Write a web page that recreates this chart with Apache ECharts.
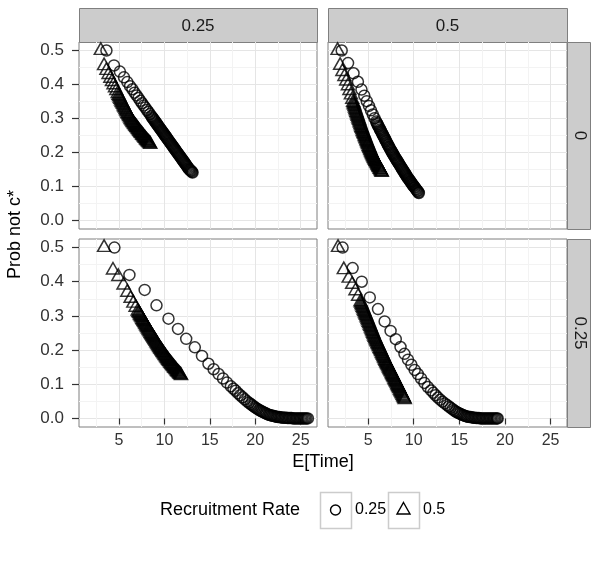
<!DOCTYPE html>
<html><head><meta charset="utf-8">
<script src="https://cdn.jsdelivr.net/npm/echarts@6/dist/echarts.min.js"></script>
<style>html,body{margin:0;padding:0;background:#fff}#c{width:592px;height:563px}</style>
</head><body><div id="c"></div>
<script>
// ---- facet labels, legend levels, ticks ----
const colFacets = ['0.25', '0.5'];
const rowFacets = ['0', '0.25'];
const rateLevels = ['0.25', '0.5'];
const xTicks = [5, 10, 15, 20, 25];
const xMinorTicks = [2.5, 7.5, 12.5, 17.5, 22.5];
const yTicks = [0, 0.1, 0.2, 0.3, 0.4, 0.5];
const yMinorTicks = [0.05, 0.15, 0.25, 0.35, 0.45];

// ---- data: [E[Time], Prob not c*] ----
// row "0", column "0.25"
const r0c1_rate025 = [[3.62,0.500],[4.45,0.456],[5.10,0.438],[5.55,0.421],[5.92,0.407],[6.22,0.395],[6.48,0.386],[6.72,0.376],[6.94,0.368],[7.15,0.360],[7.35,0.352],[7.54,0.345],[7.72,0.338],[7.90,0.332],[8.07,0.325],[8.24,0.319],[8.40,0.313],[8.56,0.307],
[8.64,0.304],[8.72,0.301],[8.80,0.298],[8.88,0.295],[8.96,0.292],[9.04,0.289],[9.12,0.286],[9.20,0.283],[9.28,0.280],[9.36,0.277],[9.44,0.274],[9.52,0.271],[9.60,0.268],[9.68,0.265],[9.76,0.262],[9.84,0.259],[9.92,0.256],[10.00,0.253],[10.08,0.250],[10.16,0.247],[10.24,0.244],[10.32,0.241],[10.40,0.238],[10.48,0.235],[10.56,0.232],[10.64,0.229],[10.72,0.226],[10.80,0.223],[10.88,0.220],[10.96,0.217],[11.04,0.214],[11.12,0.211],[11.20,0.208],[11.28,0.205],[11.36,0.202],[11.44,0.199],[11.52,0.196],[11.60,0.193],[11.68,0.190],[11.76,0.187],[11.84,0.184],[11.92,0.181],[12.00,0.178],[12.08,0.175],[12.16,0.172],[12.24,0.169],[12.32,0.166],[12.40,0.163],[12.48,0.160],[12.56,0.157],[12.64,0.154],[12.72,0.151],[12.80,0.149],[12.88,0.147],[12.96,0.145],[13.04,0.143],[13.10,0.141]];
const r0c1_rate05 = [[3.00,0.500],[3.36,0.455],[3.62,0.441],[3.85,0.429],[4.05,0.418],[4.23,0.408],[4.40,0.399],[4.56,0.390],[4.71,0.382],[4.86,0.373],
[4.95,0.368],[5.02,0.364],[5.09,0.360],[5.16,0.356],[5.23,0.352],[5.30,0.348],[5.37,0.345],[5.44,0.341],[5.51,0.337],[5.58,0.333],[5.65,0.330],[5.72,0.326],[5.79,0.322],[5.86,0.319],[5.93,0.315],[6.00,0.312],[6.07,0.308],[6.14,0.305],[6.21,0.302],[6.28,0.298],[6.35,0.295],[6.42,0.292],[6.49,0.289],[6.56,0.287],[6.63,0.284],[6.70,0.282],[6.77,0.279],[6.84,0.277],[6.91,0.274],[6.98,0.272],[7.05,0.269],[7.12,0.267],[7.19,0.264],[7.26,0.262],[7.33,0.259],[7.40,0.257],[7.47,0.255],[7.54,0.252],[7.61,0.250],[7.68,0.248],[7.75,0.245],[7.82,0.243],[7.89,0.241],[7.96,0.238],[8.03,0.236],[8.10,0.234],[8.17,0.232],[8.24,0.230],[8.31,0.228],[8.38,0.226],[8.45,0.224]];
// row "0", column "0.5"
const r0c2_rate025 = [[2.10,0.500],[2.80,0.463],[3.40,0.433],[3.88,0.408],[4.27,0.385],[4.58,0.367],[4.85,0.351],[5.09,0.337],[5.31,0.324],[5.51,0.312],[5.70,0.301],[5.88,0.291],
[5.95,0.287],[6.02,0.283],[6.09,0.279],[6.16,0.276],[6.23,0.272],[6.30,0.268],[6.37,0.265],[6.44,0.261],[6.51,0.257],[6.58,0.254],[6.65,0.250],[6.72,0.246],[6.79,0.243],[6.86,0.239],[6.93,0.235],[7.00,0.232],[7.07,0.228],[7.14,0.224],[7.21,0.221],[7.28,0.217],[7.35,0.214],[7.42,0.210],[7.49,0.207],[7.56,0.204],[7.63,0.200],[7.70,0.197],[7.77,0.194],[7.84,0.191],[7.91,0.187],[7.98,0.184],[8.05,0.181],[8.12,0.178],[8.19,0.175],[8.26,0.172],[8.33,0.169],[8.40,0.166],[8.47,0.163],[8.54,0.160],[8.61,0.157],[8.68,0.154],[8.75,0.151],[8.82,0.148],[8.89,0.145],[8.96,0.142],[9.03,0.139],[9.10,0.136],[9.17,0.133],[9.24,0.130],[9.31,0.127],[9.38,0.124],[9.45,0.122],[9.52,0.119],[9.59,0.116],[9.66,0.114],[9.73,0.111],[9.80,0.108],[9.87,0.106],[9.94,0.103],[10.01,0.101],[10.08,0.098],[10.15,0.096],[10.22,0.093],[10.29,0.091],[10.36,0.088],[10.43,0.086],[10.50,0.083],[10.56,0.081]];
const r0c2_rate05 = [[1.65,0.500],[1.93,0.456],[2.18,0.438],[2.40,0.423],[2.60,0.410],[2.78,0.396],[2.95,0.382],[3.11,0.369],[3.26,0.356],
[3.36,0.347],[3.41,0.343],[3.46,0.339],[3.51,0.335],[3.56,0.330],[3.61,0.326],[3.66,0.322],[3.71,0.318],[3.76,0.314],[3.81,0.310],[3.86,0.306],[3.91,0.302],[3.96,0.298],[4.01,0.294],[4.06,0.290],[4.11,0.286],[4.16,0.282],[4.21,0.278],[4.26,0.274],[4.31,0.271],[4.36,0.267],[4.41,0.263],[4.46,0.260],[4.51,0.256],[4.56,0.253],[4.61,0.249],[4.66,0.246],[4.71,0.242],[4.76,0.239],[4.81,0.235],[4.86,0.232],[4.91,0.228],[4.96,0.225],[5.01,0.222],[5.06,0.218],[5.11,0.215],[5.16,0.212],[5.21,0.208],[5.26,0.205],[5.31,0.202],[5.36,0.199],[5.41,0.196],[5.46,0.193],[5.51,0.190],[5.56,0.187],[5.61,0.184],[5.66,0.182],[5.71,0.179],[5.76,0.177],[5.81,0.174],[5.86,0.172],[5.91,0.169],[5.96,0.167],[6.01,0.164],[6.06,0.162],[6.11,0.159],[6.16,0.157],[6.21,0.155],[6.26,0.152],[6.31,0.150],[6.36,0.148],[6.41,0.145],[6.46,0.143],[6.50,0.141]];
// row "0.25", column "0.25"
const r1c1_rate025 = [[4.50,0.500],[6.15,0.420],[7.83,0.376],[9.13,0.331],[10.45,0.292],[11.50,0.262],[12.40,0.233],[13.35,0.208],[14.14,0.183],[14.85,0.160],[15.42,0.144],[15.96,0.130],[16.45,0.117],[16.89,0.105],[17.32,0.094],
[17.60,0.087],[17.85,0.081],[18.10,0.074],[18.35,0.068],[18.60,0.062],[18.85,0.056],[19.10,0.050],[19.30,0.046],[19.50,0.042],[19.65,0.039],[19.80,0.036],[19.95,0.033],[20.10,0.030],[20.25,0.028],[20.40,0.025],[20.55,0.023],[20.70,0.021],[20.85,0.019],[21.00,0.017],[21.15,0.015],[21.30,0.013],[21.45,0.011],[21.60,0.010],[21.75,0.009],[21.90,0.008],[22.05,0.007],[22.20,0.006],[22.35,0.005],[22.50,0.004],[22.65,0.004],[22.80,0.003],[22.95,0.003],[23.10,0.002],[23.25,0.002],[23.40,0.002],[23.55,0.001],[23.70,0.001],[23.85,0.001],[24.00,0.001],[24.15,0.000],[24.30,0.000],[24.45,0.000],[24.60,0.000],[24.75,0.000],[24.90,0.000],[25.05,0.000],[25.20,0.000],[25.35,0.000],[25.50,0.000],[25.65,0.000],[25.80,0.000]];
const r1c1_rate05 = [[3.36,0.500],[4.34,0.434],[4.93,0.415],[5.50,0.390],[5.92,0.369],[6.28,0.351],[6.58,0.337],[6.83,0.325],[7.06,0.314],
[7.15,0.310],[7.22,0.307],[7.29,0.303],[7.36,0.300],[7.43,0.297],[7.50,0.294],[7.57,0.290],[7.64,0.287],[7.71,0.284],[7.78,0.281],[7.85,0.277],[7.92,0.274],[7.99,0.271],[8.06,0.268],[8.13,0.265],[8.20,0.261],[8.27,0.258],[8.34,0.255],[8.41,0.252],[8.48,0.249],[8.55,0.246],[8.62,0.243],[8.69,0.240],[8.76,0.237],[8.83,0.234],[8.90,0.231],[8.97,0.228],[9.04,0.225],[9.11,0.222],[9.18,0.219],[9.25,0.216],[9.32,0.213],[9.39,0.210],[9.46,0.207],[9.53,0.204],[9.60,0.202],[9.67,0.199],[9.74,0.196],[9.81,0.193],[9.88,0.191],[9.95,0.188],[10.02,0.185],[10.09,0.183],[10.16,0.180],[10.23,0.177],[10.30,0.175],[10.37,0.172],[10.44,0.170],[10.51,0.167],[10.58,0.165],[10.65,0.162],[10.72,0.160],[10.79,0.158],[10.86,0.155],[10.93,0.153],[11.00,0.151],[11.07,0.148],[11.14,0.146],[11.21,0.144],[11.28,0.142],[11.35,0.139],[11.42,0.137],[11.49,0.135],[11.56,0.133],[11.63,0.131],[11.70,0.129],[11.77,0.127],[11.84,0.125]];
// row "0.25", column "0.5"
const r1c2_rate025 = [[2.20,0.500],[3.30,0.440],[4.30,0.400],[5.18,0.354],[6.08,0.320],[6.81,0.284],[7.46,0.256],[8.03,0.232],[8.55,0.209],[8.98,0.189],[9.37,0.172],[9.74,0.157],[10.10,0.142],[10.44,0.130],[10.80,0.117],[11.17,0.104],[11.54,0.092],[11.90,0.082],
[12.15,0.075],[12.40,0.068],[12.65,0.061],[12.90,0.055],[13.15,0.049],[13.40,0.044],[13.65,0.039],[13.85,0.035],[14.05,0.031],[14.25,0.027],[14.45,0.023],[14.60,0.020],[14.75,0.018],[14.90,0.016],[15.05,0.014],[15.20,0.012],[15.35,0.010],[15.50,0.009],[15.65,0.007],[15.80,0.006],[15.95,0.005],[16.10,0.004],[16.25,0.004],[16.40,0.003],[16.55,0.002],[16.70,0.002],[16.85,0.001],[17.00,0.001],[17.15,0.001],[17.30,0.000],[17.45,0.000],[17.60,0.000],[17.75,0.000],[17.90,0.000],[18.05,0.000],[18.20,0.000],[18.35,0.000],[18.50,0.000],[18.65,0.000],[18.80,0.000],[18.95,0.000],[19.10,0.000],[19.20,0.000]];
const r1c2_rate05 = [[1.70,0.500],[2.33,0.435],[2.87,0.410],[3.25,0.392],[3.61,0.373],[3.90,0.357],[4.16,0.341],
[4.22,0.337],[4.28,0.333],[4.34,0.329],[4.40,0.325],[4.46,0.321],[4.52,0.317],[4.58,0.313],[4.64,0.309],[4.70,0.305],[4.76,0.301],[4.82,0.297],[4.88,0.293],[4.94,0.289],[5.00,0.285],[5.06,0.281],[5.12,0.277],[5.18,0.273],[5.24,0.269],[5.30,0.265],[5.36,0.261],[5.42,0.257],[5.48,0.253],[5.54,0.249],[5.60,0.245],[5.66,0.241],[5.72,0.237],[5.78,0.233],[5.84,0.230],[5.90,0.226],[5.96,0.223],[6.02,0.219],[6.08,0.216],[6.14,0.212],[6.20,0.209],[6.26,0.205],[6.32,0.202],[6.38,0.198],[6.44,0.195],[6.50,0.191],[6.56,0.188],[6.62,0.184],[6.68,0.181],[6.74,0.177],[6.80,0.174],[6.86,0.170],[6.92,0.167],[6.98,0.163],[7.04,0.160],[7.10,0.157],[7.16,0.154],[7.22,0.151],[7.28,0.147],[7.34,0.144],[7.40,0.141],[7.46,0.138],[7.52,0.135],[7.58,0.131],[7.64,0.128],[7.70,0.125],[7.76,0.122],[7.82,0.119],[7.88,0.115],[7.94,0.112],[8.00,0.109],[8.06,0.106],[8.12,0.103],[8.18,0.099],[8.24,0.096],[8.30,0.093],[8.36,0.090],[8.42,0.087],[8.48,0.083],[8.54,0.080],[8.60,0.077],[8.66,0.074],[8.72,0.071],[8.78,0.067],[8.84,0.064],[8.90,0.061],[8.96,0.058],[9.02,0.055]];

const panelData = [
  [[r0c1_rate025, r0c1_rate05], [r0c2_rate025, r0c2_rate05]],
  [[r1c1_rate025, r1c1_rate05], [r1c2_rate025, r1c2_rate05]]
];

// ---- layout ----
const FONT = '"Liberation Sans", Arial, sans-serif';
const X_RANGE = [0.6, 26.8];
const Y_RANGE = [-0.025, 0.525];
const colLeft = [79, 328], colWidth = [238, 239];
const rowTop = [42, 239], rowHeight = [187, 188];
const stripTop = 8, stripRightW = 23;

const grids = [], xAxes = [], yAxes = [], series = [];
const minorX = [], minorY = [];
const markStyle = {color: 'rgba(0,0,0,0)', borderColor: '#000000', borderWidth: 1.5};
let g = 0;
for (let r = 0; r < 2; r++) {
  for (let c = 0; c < 2; c++) {
    grids.push({left: colLeft[c], top: rowTop[r], width: colWidth[c], height: rowHeight[r],
      show: true, backgroundColor: '#ffffff', borderColor: '#7f7f7f', borderWidth: 1});
    const showX = r === 1, showY = c === 0;
    xAxes.push({type: 'value', gridIndex: g, min: X_RANGE[0], max: X_RANGE[1], position: 'bottom',
      axisLine: {show: false},
      axisTick: {show: showX, customValues: xTicks, length: 6, lineStyle: {color: '#333333', width: 1.2}},
      axisLabel: {show: showX, customValues: xTicks, color: '#333333', fontSize: 16, fontFamily: FONT, margin: 6},
      splitLine: {show: true, lineStyle: {color: '#e5e5e5', width: 1}}});
    yAxes.push({type: 'value', gridIndex: g, min: Y_RANGE[0], max: Y_RANGE[1], position: 'left',
      axisLine: {show: false},
      axisTick: {show: showY, customValues: yTicks, length: 7, lineStyle: {color: '#333333', width: 1.2}},
      axisLabel: {show: showY, customValues: yTicks, color: '#333333', fontSize: 17, fontFamily: FONT, margin: 15,
        formatter: v => v.toFixed(1)},
      splitLine: {show: true, lineStyle: {color: '#e5e5e5', width: 1}}});
    minorX.push({type: 'value', gridIndex: g, min: X_RANGE[0], max: X_RANGE[1], position: 'top',
      axisLine: {show: false}, axisTick: {show: false, customValues: xMinorTicks},
      axisLabel: {show: false}, splitLine: {show: true, lineStyle: {color: '#f3f3f3', width: 1}}});
    minorY.push({type: 'value', gridIndex: g, min: Y_RANGE[0], max: Y_RANGE[1], position: 'right',
      axisLine: {show: false}, axisTick: {show: false, customValues: yMinorTicks},
      axisLabel: {show: false}, splitLine: {show: true, lineStyle: {color: '#f3f3f3', width: 1}}});
    const [circ, tri] = panelData[r][c];
    series.push({type: 'scatter', name: rateLevels[0], xAxisIndex: g, yAxisIndex: g, data: circ,
      symbol: 'circle', symbolSize: 11, silent: true, itemStyle: markStyle});
    series.push({type: 'scatter', name: rateLevels[1], xAxisIndex: g, yAxisIndex: g, data: tri,
      symbol: 'triangle', symbolSize: [13, 11.5], symbolOffset: [0, -1.9], silent: true, itemStyle: markStyle});
    g++;
  }
}

// ---- strips, titles, legend ----
const graphic = [];
for (let c = 0; c < 2; c++) {
  graphic.push({type: 'rect', shape: {x: colLeft[c] + 0.5, y: stripTop + 0.5, width: colWidth[c], height: rowTop[0] - stripTop},
    style: {fill: '#cccccc', stroke: '#7f7f7f', lineWidth: 1}});
  graphic.push({type: 'text', x: colLeft[c] + colWidth[c] / 2, y: (stripTop + rowTop[0]) / 2 + 1,
    style: {text: colFacets[c], fill: '#1a1a1a', font: '17px ' + FONT, align: 'center', verticalAlign: 'middle'}});
}
const stripX = colLeft[1] + colWidth[1];
for (let r = 0; r < 2; r++) {
  graphic.push({type: 'rect', shape: {x: stripX + 0.5, y: rowTop[r] + 0.5, width: stripRightW, height: rowHeight[r]},
    style: {fill: '#cccccc', stroke: '#7f7f7f', lineWidth: 1}});
  graphic.push({type: 'text', x: stripX + stripRightW / 2 + 1, y: rowTop[r] + rowHeight[r] / 2, rotation: -Math.PI / 2,
    style: {text: rowFacets[r], fill: '#1a1a1a', font: '17px ' + FONT, align: 'center', verticalAlign: 'middle'}});
}
graphic.push({type: 'text', x: (colLeft[0] + colLeft[1] + colWidth[1]) / 2, y: 462,
  style: {text: 'E[Time]', fill: '#000000', font: '18px ' + FONT, align: 'center', verticalAlign: 'middle'}});
graphic.push({type: 'text', x: 15, y: (rowTop[0] + rowTop[1] + rowHeight[1]) / 2, rotation: Math.PI / 2,
  style: {text: 'Prob not c*', fill: '#000000', font: '18px ' + FONT, align: 'center', verticalAlign: 'middle'}});
// legend
const legY = 510;
graphic.push({type: 'text', x: 160, y: legY,
  style: {text: 'Recruitment Rate', fill: '#000000', font: '18px ' + FONT, align: 'left', verticalAlign: 'middle'}});
const keyX = [320, 388], keyW = 31, keyH = 36;
for (let i = 0; i < 2; i++) {
  graphic.push({type: 'rect', shape: {x: keyX[i] + 0.5, y: legY - keyH / 2 + 0.5, width: keyW, height: keyH},
    style: {fill: '#ffffff', stroke: '#cccccc', lineWidth: 1.5}});
  const cx = keyX[i] + keyW / 2;
  if (i === 0) {
    graphic.push({type: 'circle', shape: {cx: cx, cy: legY, r: 5},
      style: {fill: 'none', stroke: '#000000', lineWidth: 1.4}});
  } else {
    graphic.push({type: 'polygon', shape: {points: [[cx, legY - 7.5], [cx + 6.5, legY + 4], [cx - 6.5, legY + 4]]},
      style: {fill: 'none', stroke: '#000000', lineWidth: 1.4}});
  }
  graphic.push({type: 'text', x: keyX[i] + keyW + 4, y: legY,
    style: {text: rateLevels[i], fill: '#000000', font: '16px ' + FONT, align: 'left', verticalAlign: 'middle'}});
}

const chart = echarts.init(document.getElementById('c'), null, {renderer: 'canvas'});
chart.setOption({
  animation: false,
  backgroundColor: '#ffffff',
  grid: grids,
  xAxis: xAxes.concat(minorX),
  yAxis: yAxes.concat(minorY),
  series: series,
  graphic: graphic
});
</script>
</body></html>
